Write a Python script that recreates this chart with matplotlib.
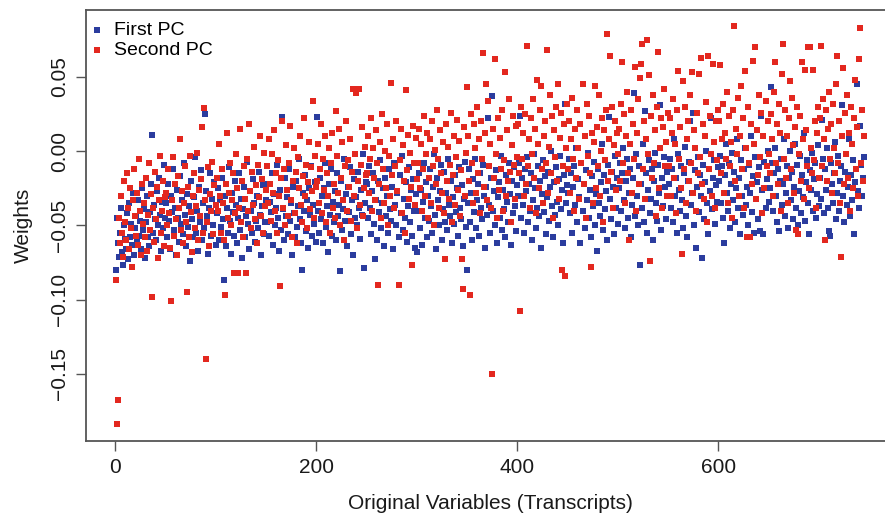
import numpy as np
import matplotlib
matplotlib.use("Agg")
from matplotlib import pyplot as plt

# loadings, in units of 1e-3, one value per transcript
first_pc = [
    -80, -45, -62, -71, -55, -38, -68, -77, -50, -59, -66, -42, -73, -35, -58, -49, -63, -28, -70, -52,
    -44, -61, -33, -57, -47, -66, -25, -53, -39, -72, -48, -30, -58, -64, -41, -22, 11, -55, -36, -46,
    -60, -27, -50, -18, -43, -67, -34, -52, -9, -45,
    -35, -58, -22, -47, -66, -30, -41, -12, -53, -38, -70, -26, -45, -61, -17, -49, -33, -56, -8, -43,
    -64, -29, -51, -37, -74, -20, -46, -58, -31, -4, -55, -40, -67, -24, -48, -13, -60, -35, -52, 25,
    -27, -44, -69, -38, -15, -57, -32, -50, -21, -63,
    -42, -25, -60, -33, -51, -18, -46, -87, -30, -64, -38, -55, -11, -47, -69, -28, -41, -57, -20, -36,
    -62, -45, -15, -53, -32, -72, -39, -24, -58, -44, -7, -49, -66, -27, -40, -55, -19, -35, -61, -47,
    -30, -52, -14, -43, -70, -37, -23, -56, -48, -33,
    -48, -22, -57, -34, -41, -15, -63, -29, -50, -38, -9, -45, -67, -26, -53, 23, -39, -60, -18, -44,
    -31, -56, -12, -47, -35, -70, -24, -42, -58, -20, -51, -37, -5, -46, -62, -80, -28, -40, -16, -54,
    -33, -65, -25, -43, -10, -57, -36, -49, -21, -61,
    23, -40, -55, -18, -46, -30, -62, -25, -8, -51, -37, -68, -22, -43, -12, -57, -34, -48, -27, -60,
    -15, -44, -36, -81, -20, -53, -39, -5, -47, -29, -64, -24, -41, -11, -56, -33, -70, -19, -45, -31,
    -50, -14, -38, -59, -26, -43, -2, -79, -35, -21,
    -22, -45, -10, -38, -56, -27, -15, -49, -73, -33, -60, -20, -41, -6, -52, -35, -25, -64, -18, -44,
    -30, -55, -12, -39, -47, -24, -66, -8, -36, -50, -28, -58, -16, -42, -3, -53, -32, -45, -21, -61,
    -37, -11, -48, -26, -57, -19, -40, -65, -29, -68,
    -40, -15, -52, -26, -63, -34, -8, -45, -21, -58, -30, -47, -12, -37, -55, -24, -2, -43, -66, -18,
    -33, -50, -27, -9, -60, -39, -14, -48, -28, -53, -5, -36, -44, -20, -62, -31, -49, -16, -41, -25,
    -57, -11, -38, -46, -23, -64, -32, -7, -51, -80,
    -35, -12, -48, -28, -60, -19, -41, -5, -52, -33, -22, -57, -15, -38, -46, -9, -30, -65, -24, -43,
    22, -36, -55, -18, 37, -40, -27, -50, -13, -62, -31, -21, -45, -3, -53, -26, -39, -58, -16, -34,
    -48, -8, -29, -63, -20, -42, -11, -37, -54, -23,
    -30, -8, 24, -45, -18, -36, -55, -12, -27, -4, -48, -22, -40, -15, -60, -33, -2, -25, -52, -38,
    -10, -44, -20, -65, -29, -6, -41, -17, -56, -31, -14, -47, -24, 0, -37, -58, -21, -43, -11, -34,
    -50, -19, -3, -39, -26, -62, -16, 32, -35, -23,
    -28, -5, -42, -15, -55, -24, -10, -36, 2, -48, -19, -31, -62, -8, -40, -22, -52, -13, -33, -1,
    -45, -26, -58, -17, -37, -7, -50, -29, -67, -12, -35, -44, -21, 5, -53, -16, -39, -27, -60, -9,
    23, -32, -46, -14, -24, -56, -3, -38, -18, -49,
    -25, -8, -40, -15, 2, -33, -52, -20, -5, -45, -28, -12, -58, -36, -18, 39, -44, -2, -30, -50,
    -10, -77, -22, -38, 5, -48, 27, -15, -55, -26, -6, -42, -32, -12, -60, -20, -1, -35, -47, -9,
    -28, 31, -53, -18, -37, -4, -24, -46, -14, -30,
    -22, -5, -38, -12, -48, 8, -30, -18, -55, -2, -26, -40, -10, -33, -52, -15, 3, -44, -58, -20,
    -7, 20, -36, -28, 26, -50, -13, -65, -24, -4, -41, -16, -30, -72, -9, -46, -21, 0, -35, -56,
    -12, -27, 22, -39, -18, -6, -49, -23, -34, -11,
    -20, -3, -35, -10, -45, -62, -16, 5, -28, -40, -8, -52, -22, -1, -33, -14, -48, -25, 8, -38,
    -18, -56, -6, -30, -43, -12, 2, -36, -24, -50, -9, -28, 10, -41, -17, -55, -4, -32, -21, -46,
    -11, -54, 24, -26, -56, -7, -38, -19, 0, -34,
    -25, 43, -8, -40, -15, 2, -30, -48, -12, -54, -20, -5, -36, -22, 8, -44, -28, -10, -52, -18,
    0, -33, -14, -46, -24, 5, -38, -9, -50, -27, -3, -42, -16, -31, 12, -47, -21, -6, -35, -56,
    -13, -26, -1, -40, -19, -8, -45, -29, 4, -37,
    -18, -32, 21, -5, -42, -12, -26, 2, -38, -54, -57, -8, -22, -35, -15, 6, -46, -28, -3, -40,
    -20, -10, 31, -30, -48, -14, -2, -36, -24, 8, -44, -16, -33, -6, -56, -21, -12, 45, -27, -38,
    17, -9, -30, -18, -4,
]

second_pc = [
    -87, -184, -168, -45, -62, -30, -55, -71, -20, -48, -60, -15, -38, -66, -25, -52, -78, -33, -12, -44,
    -57, -28, -63, -5, -40, -70, -22, -49, -35, -58, -18, -67, -43, -8, -53, -29, -98, -38, -61, -14,
    -46, -24, -72, -33, -3, -55, -40, -20, -64, -31,
    -28, -50, -12, -42, -65, -101, -33, -4, -57, -22, -46, -70, -17, -38, 8, -53, -27, -62, -35, -10,
    -48, -95, -24, -58, -3, -41, -68, -30, -15, -52, -37, -1, -60, -26, -44, -19, 16, -55, 29, -33,
    -140, -48, -11, -64, -29, -40, -7, -56, -23, -36,
    -18, -40, 5, -30, -55, -12, -35, -60, -97, -22, 12, -45, -28, -8, -50, -33, -15, -82, -42, -2,
    -25, -82, -38, 15, -48, -20, -58, -10, -32, -82, -5, -40, 18, -27, -52, -14, -36, 3, -46, -23,
    -62, -9, -31, 10, -44, -19, -55, -1, -37, -26,
    -10, -35, 8, -22, -47, -2, -28, 14, -40, -15, -55, -6, -30, -91, -18, 20, -38, -12, -50, 4,
    -26, -44, -8, 17, -33, -58, -20, 2, -42, -14, -62, -4, -25, 10, -36, -48, -17, 22, -30, -9,
    -52, -21, 6, -39, -11, -27, 34, -45, -3, -24,
    -20, 5, -35, -12, 18, -42, -5, -26, 10, -48, -15, -30, 2, -55, -8, 12, -38, -22, -45, 27,
    -3, -28, 15, -50, -18, 6, -33, -60, -10, 20, -40, -6, -24, 8, -47, -14, 42, -30, -2, 39,
    -52, -20, 42, -36, -9, 16, -44, -25, 3, -16,
    -15, 10, -28, -5, 22, -40, 2, -18, -33, 14, -8, -90, -22, 6, -45, 25, -12, -35, 0, -25,
    18, -50, -3, -30, 46, -16, 8, -38, -10, 20, -27, -90, -6, 15, -42, 4, -20, -55, 41, -13,
    11, -32, -1, -24, -77, 17, -8, -36, 9, -19,
    -8, 15, -25, 5, -40, -12, 24, -30, -2, 12, -45, -18, 8, -35, 20, -10, -50, 1, -22, 28,
    -5, -38, 14, -15, -28, 6, -42, -73, 18, -20, 3, -32, -9, 26, -48, -16, 10, -36, -4, 21,
    -26, 7, -44, -13, -73, -93, 16, -30, -1, 43,
    10, -20, -97, 25, -8, -35, 18, 2, -28, 30, -15, 8, -42, 20, -5, 66, -24, 12, 45, -33,
    34, -10, 5, -38, -150, 15, -18, 62, -2, -45, 22, -26, 9, -12, 28, -40, -6, 53, -30, 14,
    -20, 35, -14, -48, 4, 24, -9, -32, 17, -4,
    18, -15, -108, 30, -5, 12, -30, 25, -22, 71, -10, 8, -38, 22, -2, 35, -18, 15, -42, 48,
    5, -25, 28, 44, -12, -35, 10, 20, -8, 68, -28, 3, 38, -15, 24, -45, 14, -4, 30, -20,
    45, -32, 9, 26, -80, -10, 18, -84, 2, 32,
    -12, 20, -28, 8, 36, -5, -40, 15, -18, 28, 2, -32, 18, -8, 45, -22, 10, -45, 32, -3,
    24, -15, -78, 12, -35, 6, 44, -25, 16, -10, 38, -30, 0, 22, -48, 14, -6, 28, 79, -20,
    8, 64, -14, 30, -38, 4, 20, -26, 12, -2,
    15, -20, 32, 60, -8, 25, -35, 10, 40, -15, -60, 5, 28, -28, 18, -5, 57, -40, 12, 35,
    -22, 49, 59, 72, -12, 20, -32, 8, 75, -2, 51, -74, 24, -18, 38, -8, 14, -44, 30, 67,
    -25, 2, 22, -38, 16, 42, -10, 6, -30, 26,
    -10, 22, -30, 12, 35, -18, 5, -42, 28, 54, -5, 16, -25, -69, 47, -12, 30, -35, 8, 20,
    -20, 38, -8, 53, -28, 14, 2, -40, 26, -15, 52, -4, 63, -22, 18, -32, 10, 33, -48, 64,
    -12, 24, -2, -30, 59, 6, -38, 20, -6, 28,
    20, 58, -15, 8, 32, -28, 12, -5, 40, -35, 24, -10, 6, -45, 28, 84, -20, 15, -2, 36,
    -30, 10, 44, -12, 22, -38, 54, 2, -58, 30, -8, -58, 18, -22, 61, 5, 70, -32, 14, -16,
    38, -4, 26, -42, 10, -25, 34, -10, 20, -2,
    -15, 25, 8, -30, 40, 60, -8, 18, -22, 32, 12, -40, 52, 72, -5, 28, -18, 10, -35, 22,
    47, -12, 36, 4, -28, 16, -53, 30, -56, -2, 24, -20, 60, 8, -32, 55, 14, -10, 70, -25,
    70, 2, -15, 55, -6, 20, -38, 12, 30, -18,
    22, 71, -10, 35, 8, -60, 28, -20, 15, 40, -5, 18, -28, 32, 2, -15, 45, 64, -8, 20,
    -35, -71, 10, 56, -22, 26, -2, 38, -18, 12, -40, 30, 5, -25, 22, 48, -12, 16, -30, 62,
    83, -8, 28, -20, 10,
]

x_ticks = [0, 200, 400, 600]
y_ticks = [-0.15, -0.10, -0.05, 0.00, 0.05]
y_tick_labels = ['\u22120.15', '\u22120.10', '\u22120.05', '0.00', '0.05']

blue = '#2B3C9E'
red = '#E3281F'
axis_grey = '#555555'

plt.rcParams['font.family'] = ['Liberation Sans', 'DejaVu Sans']
plt.rcParams['font.size'] = 15

first = np.array(first_pc) / 1000
second = np.array(second_pc) / 1000

fig = plt.figure(figsize=(8.85, 5.15), dpi=100)
ax = fig.add_axes([86 / 885, 1 - 441 / 515, 808 / 885, 431 / 515])

ax.scatter(np.arange(1, len(first) + 1), first, marker='s', s=13, color=blue,
           linewidths=0, label='First PC', zorder=2)
ax.scatter(np.arange(1, len(second) + 1), second, marker='s', s=13, color=red,
           linewidths=0, label='Second PC', zorder=3)

ax.set_xlim(-28.8, 774.8)
ax.set_ylim(-0.1953, 0.0951)

ax.set_xticks(x_ticks)
ax.set_yticks(y_ticks)
ax.set_yticklabels(y_tick_labels, rotation=90, va='center')

for side in ['left', 'bottom', 'top', 'right']:
    ax.spines[side].set_color(axis_grey)
    ax.spines[side].set_linewidth(1.3)
ax.tick_params(direction='out', length=7.5, width=1, color=axis_grey,
               labelcolor='#1a1a1a', pad=5)

ax.set_xlabel('Original Variables (Transcripts)', color='#1a1a1a', labelpad=12)
ax.set_ylabel('Weights', color='#1a1a1a', labelpad=12)

ax.legend(loc='upper left', frameon=False, markerscale=1.0, handlelength=0.6,
          handletextpad=0.55, borderaxespad=0.2, labelspacing=0.1,
          fontsize=14, bbox_to_anchor=(-0.008, 1.0))

fig.savefig('out.png', dpi=100)
